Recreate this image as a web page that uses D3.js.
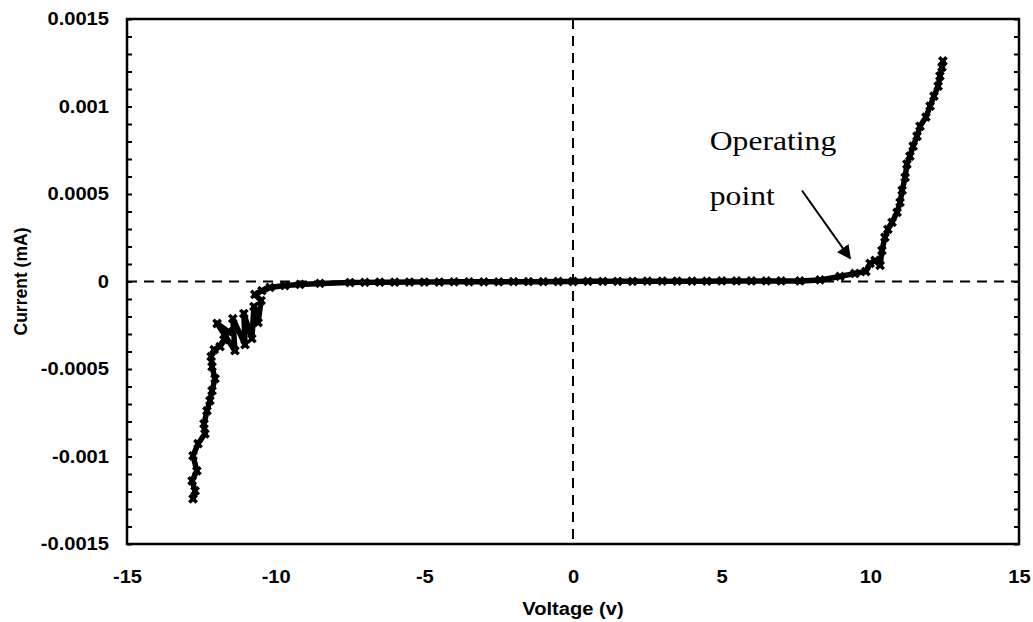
<!DOCTYPE html>
<html>
<head>
<meta charset="utf-8">
<script src="https://cdn.jsdelivr.net/npm/d3@7/dist/d3.min.js"></script>
<style>
  html, body { margin: 0; padding: 0; background: #fff; }
  svg { display: block; }
</style>
</head>
<body>
<svg id="chart" width="1033" height="622"></svg>
<script>
// I-V sweep
const voltage = [
  -12.78, -12.71, -12.81, -12.65, -12.78, -12.61, -12.38, -12.41, -12.31, -12.21,
  -12.14, -12.04, -12.14, -12.17, -12.07, -11.87, -11.74, -11.60, -11.97, -11.37,
  -11.44, -11.03, -11.07, -10.80, -10.73, -10.59, -10.49, -10.70, -10.46, -10.19,
  -9.69, -9.18, -8.51, -7.50, -7.0, -6.5, -6.0, -5.5, -5.0, -4.5,
  -4.0, -3.5, -3.0, -2.5, -2.0, -1.5, -1.0, -0.5, 0.0, 0.5,
  1.0, 1.5, 2.0, 2.5, 3.0, 3.5, 4.0, 4.5, 5.0, 5.5,
  6.0, 6.5, 7.0, 7.63, 8.31, 8.98, 9.48, 9.85, 9.99, 10.16,
  10.33, 10.39, 10.49, 10.59, 10.73, 10.90, 11.00, 11.07, 11.17, 11.23,
  11.33, 11.44, 11.57, 11.67, 11.87, 12.01, 12.14, 12.28, 12.34, 12.41,
  12.44
]
const current = [
  -0.001242, -0.001197, -0.001139, -0.001082, -0.000996, -0.000927, -0.000870, -0.000813, -0.000739, -0.000681,
  -0.000624, -0.000555, -0.000487, -0.000429, -0.000389, -0.000372, -0.000332, -0.000286, -0.000240, -0.000395,
  -0.000212, -0.000361, -0.000183, -0.000326, -0.000143, -0.000235, -0.000109, -0.000074, -0.000052, -0.000034,
  -0.000023, -0.000017, -0.000011, -0.000006, -0.000005, -0.000004, -0.000004, -0.000003, -0.000003, -0.000003,
  -0.000002, -0.000002, -0.000002, -0.000002, -0.000001, -0.000001, -0.000001, 0.000000, 0.000000, 0.000001,
  0.000001, 0.000001, 0.000001, 0.000002, 0.000002, 0.000002, 0.000002, 0.000002, 0.000003, 0.000003,
  0.000003, 0.000003, 0.000003, 0.000003, 0.000009, 0.000029, 0.000046, 0.000057, 0.000103, 0.000120,
  0.000092, 0.000177, 0.000252, 0.000298, 0.000338, 0.000395, 0.000452, 0.000521, 0.000595, 0.000670,
  0.000716, 0.000773, 0.000830, 0.000887, 0.000939, 0.001002, 0.001059, 0.001116, 0.001174, 0.001225,
  0.001260
]

const xTicks = [-15, -10, -5, 0, 5, 10, 15]
const xTickLabels = ['-15', '-10', '-5', '0', '5', '10', '15']
const yTicks = [-0.0015, -0.001, -0.0005, 0, 0.0005, 0.001, 0.0015]
const yTickLabels = ['-0.0015', '-0.001', '-0.0005', '0', '0.0005', '0.001', '0.0015']

const xTitle = 'Voltage (v)'
const yTitle = 'Current (mA)'
const noteLines = ['Operating', 'point']

const WIDTH = 1033
const HEIGHT = 622
const margin = { top: 19, right: 14, bottom: 78, left: 127 }
const width = WIDTH - margin.left - margin.right
const height = HEIGHT - margin.top - margin.bottom
const STRETCH = 1.15 // the picture is a little wider than tall
const SANS = '"Liberation Sans", Arial, sans-serif'
const SERIF = '"Liberation Serif", "Times New Roman", serif'

let stretchText = function (sel) {
  sel.each(function () {
    let w = this.getComputedTextLength()
    d3.select(this)
      .attr('textLength', w * STRETCH)
      .attr('lengthAdjust', 'spacingAndGlyphs')
  })
}

let xScale = d3.scaleLinear().domain([-15, 15]).range([0, width])
let yScale = d3.scaleLinear().domain([-0.0015, 0.0015]).range([height, 0])

let svg = d3.select('#chart')
let canvas = svg.append('g')
  .attr('transform', `translate(${margin.left}, ${margin.top})`)

// tick labels
let xg = canvas.append('g')
  .attr('transform', `translate(0, ${height})`)
  .call(d3.axisBottom(xScale).tickValues(xTicks).tickFormat((d, i) => xTickLabels[i]).tickSize(0).tickPadding(27))
xg.select('.domain').remove()
xg.selectAll('text')
  .style('font-family', SANS).style('font-size', '17.5px').style('font-weight', 'bold').attr('fill', '#000')
  .call(stretchText)

let yg = canvas.append('g')
  .call(d3.axisLeft(yScale).tickValues(yTicks).tickFormat((d, i) => yTickLabels[i]).tickSize(0).tickPadding(18))
yg.select('.domain').remove()
yg.selectAll('text')
  .style('font-family', SANS).style('font-size', '17.5px').style('font-weight', 'bold').attr('fill', '#000')
  .call(stretchText)

// minor ticks, inside on both sides
let minor = d3.range(-15, 16).map(k => k * 0.0001)
canvas.append('g')
  .call(d3.axisRight(yScale).tickValues(minor).tickSize(5).tickFormat(''))
  .call(g => g.select('.domain').remove())
  .selectAll('line').attr('stroke', '#000').attr('stroke-width', 2)
canvas.append('g')
  .attr('transform', `translate(${width}, 0)`)
  .call(d3.axisLeft(yScale).tickValues(minor).tickSize(5).tickFormat(''))
  .call(g => g.select('.domain').remove())
  .selectAll('line').attr('stroke', '#000').attr('stroke-width', 2)

// zero cross-hairs
canvas.append('line')
  .attr('x1', 0).attr('x2', width)
  .attr('y1', yScale(0)).attr('y2', yScale(0))
  .attr('stroke', '#000').attr('stroke-width', 2).attr('stroke-dasharray', '10,7')
canvas.append('line')
  .attr('x1', xScale(0)).attr('x2', xScale(0))
  .attr('y1', 0).attr('y2', height)
  .attr('stroke', '#000').attr('stroke-width', 2).attr('stroke-dasharray', '10,7')

// frame
canvas.append('rect')
  .attr('width', width).attr('height', height)
  .attr('fill', 'none').attr('stroke', '#000').attr('stroke-width', 2.5)

// data
let pts = voltage.map((v, i) => [v, current[i]])
let lineGenerator = d3.line()
  .x(d => xScale(d[0]))
  .y(d => yScale(d[1]))
canvas.append('path')
  .attr('d', lineGenerator(pts))
  .attr('fill', 'none').attr('stroke', '#000')
  .attr('stroke-width', 5.5).attr('stroke-linejoin', 'round').attr('stroke-linecap', 'round')
canvas.append('g').selectAll('path')
  .data(pts)
  .join('path')
  .attr('transform', d => `translate(${xScale(d[0])}, ${yScale(d[1])}) rotate(45)`)
  .attr('d', d3.symbol().type(d3.symbolCross).size(60))
  .attr('fill', '#000')

// annotation
let note = canvas.append('g')
note.selectAll('text')
  .data(noteLines)
  .join('text')
  .attr('x', xScale(4.6))
  .attr('y', (d, i) => yScale(i === 0 ? 0.00075 : 0.000435))
  .style('font-family', SERIF).style('font-size', '27.5px')
  .attr('fill', '#000')
  .text(d => d)
  .call(stretchText)

svg.append('defs').append('marker')
  .attr('id', 'head')
  .attr('viewBox', '0 0 10 10')
  .attr('refX', 9).attr('refY', 5)
  .attr('markerWidth', 7).attr('markerHeight', 7)
  .attr('orient', 'auto')
  .append('path').attr('d', 'M0,0 L10,5 L0,10 z').attr('fill', '#000')
note.append('line')
  .attr('x1', xScale(7.7)).attr('y1', yScale(0.00052))
  .attr('x2', xScale(9.32)).attr('y2', yScale(0.000132))
  .attr('stroke', '#000').attr('stroke-width', 2)
  .attr('marker-end', 'url(#head)')

// axis titles
svg.append('text')
  .attr('x', margin.left + xScale(0)).attr('y', 615)
  .attr('text-anchor', 'middle')
  .style('font-family', SANS).style('font-size', '17.5px').style('font-weight', 'bold')
  .text(xTitle)
  .call(stretchText)
svg.append('text')
  .attr('transform', `translate(27, ${margin.top + yScale(0)}) rotate(-90)`)
  .attr('text-anchor', 'middle')
  .style('font-family', SANS).style('font-size', '17.5px').style('font-weight', 'bold')
  .text(yTitle)
</script>
</body>
</html>
